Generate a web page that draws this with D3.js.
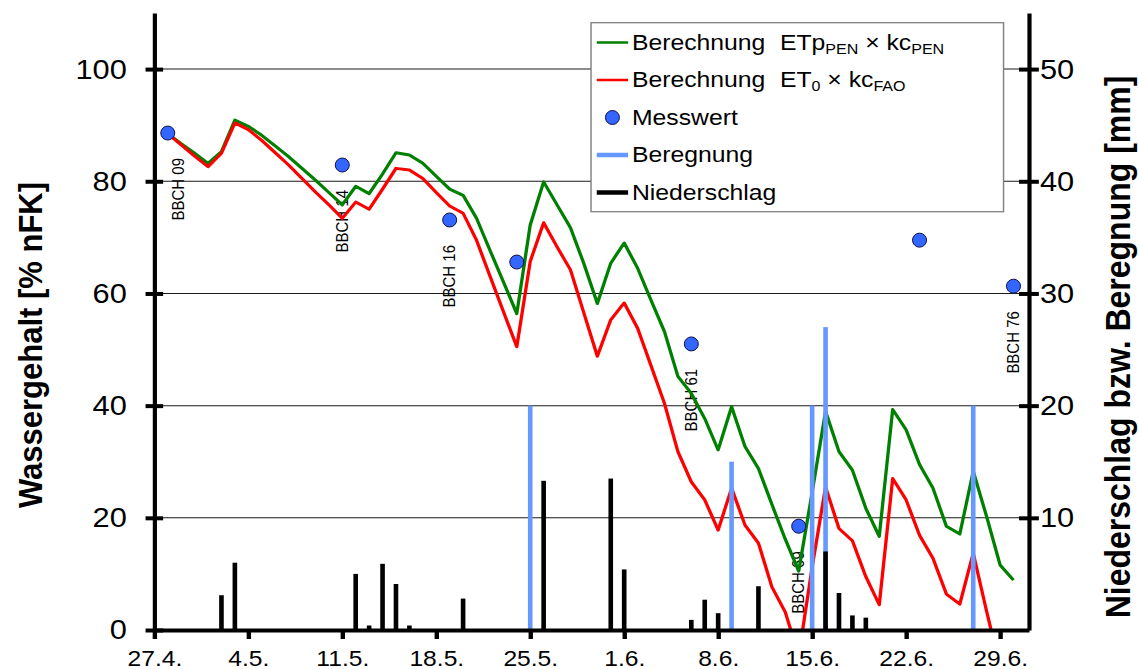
<!DOCTYPE html>
<html>
<head>
<meta charset="utf-8">
<script src="https://cdn.jsdelivr.net/npm/d3@7/dist/d3.min.js"></script>
<style>
  body { margin: 0; background: #fff; }
  svg text { font-family: "Liberation Sans", Arial, sans-serif; fill: #000; }
</style>
</head>
<body>
<svg id="chart" width="1139" height="669"></svg>
<script>
// Simulated soil water content (% nFK), one value per day starting 28.4. (day 1)
const waterPen = [88.5, 86.7, 85.0, 83.2, 85.3, 90.9, 89.8, 88.2, 86.3, 84.4,
  82.3, 80.2, 78.0, 75.8, 79.1, 77.8, 81.3, 85.1, 84.7, 83.2,
  80.9, 78.6, 77.5, 73.4, 67.7, 62.1, 56.4, 72.2, 79.9, 75.8,
  71.7, 65.3, 58.2, 65.4, 69.0, 64.5, 58.8, 53.2, 45.2, 42.2,
  37.7, 32.1, 39.8, 32.7, 28.8, 22.4, 16.2, 10.5, 24.5, 39.0,
  31.8, 28.5, 21.7, 16.7, 39.3, 35.7, 29.5, 25.3, 18.5, 17.1,
  28.3, 20.2, 11.6, 8.9];
const waterFao = [88.5, 86.5, 84.5, 82.6, 85.0, 90.4, 89.2, 87.3, 85.1, 82.9,
  80.5, 78.1, 75.8, 73.4, 76.3, 75.0, 78.6, 82.3, 82.0, 80.5,
  78.0, 75.6, 74.3, 69.5, 63.1, 56.8, 50.5, 65.7, 72.6, 68.3,
  64.2, 56.5, 48.8, 55.3, 58.3, 53.8, 47.1, 40.4, 31.8, 26.4,
  23.2, 17.8, 25.3, 18.7, 15.5, 7.7, 3.2, -4.6, 11.2, 25.5,
  18.1, 15.9, 9.5, 4.5, 27.0, 23.2, 16.9, 12.8, 6.4, 4.6,
  13.7, 3.3, -6.6, -10.0];

// Measured water content (day since 27.4., % nFK)
const measureDays = [1, 14, 22, 27, 40, 48, 57, 64];
const measureValues = [88.6, 82.9, 73.1, 65.6, 51.0, 18.5, 69.5, 61.3];

// Growth stages noted at some of the sampling dates
const bbchDays = [1, 14, 22, 40, 48, 64];
const bbchCodes = ["BBCH 09", "BBCH 14", "BBCH 16", "BBCH 61", "BBCH 69", "BBCH 76"];

// Precipitation (mm)
const rainDays = [5, 6, 15, 16, 17, 18, 19, 23, 29, 34, 35, 40, 41, 42, 45, 50, 51, 52, 53];
const rainMm = [3.1, 6.0, 5.0, 0.4, 5.9, 4.1, 0.4, 2.8, 13.3, 13.5, 5.4, 0.9, 2.7, 1.5, 3.9, 7.0, 3.3, 1.3, 1.1];

// Irrigation (mm)
const irrigDays = [28, 43, 49, 50, 61];
const irrigMm = [20, 15, 20, 27, 20];

// Axis ticks
const dateTickDays = [0, 7, 14, 21, 28, 35, 42, 49, 56, 63];
const dateTickLabels = ["27.4.", "4.5.", "11.5.", "18.5.", "25.5.", "1.6.", "8.6.", "15.6.", "22.6.", "29.6."];
const waterTicks = [0, 20, 40, 60, 80, 100];
const mmTicks = [10, 20, 30, 40, 50];

// ---------------------------------------------------------------------------
const STRETCH = 1.1;                 // the whole drawing is widened horizontally
const plotLeft = 140.3, plotRight = 935.4, plotTop = 13, plotBottom = 630;

const svg = d3.select("#chart");
const g = svg.append("g").attr("transform", `scale(${STRETCH},1)`);
const overlay = svg.append("g");     // round markers keep their shape

const x = d3.scaleLinear().domain([0, 65.15]).range([plotLeft, plotRight]);
const y = d3.scaleLinear().domain([0, 110]).range([plotBottom, plotTop]);
const yMm = d3.scaleLinear().domain([0, 55]).range([plotBottom, plotTop]);

g.append("clipPath").attr("id", "plot-clip")
  .append("rect")
  .attr("x", plotLeft).attr("y", plotTop)
  .attr("width", plotRight - plotLeft).attr("height", plotBottom - plotTop);

// horizontal grid
g.append("g").selectAll("line")
  .data(waterTicks.filter(v => v > 0))
  .join("line")
  .attr("x1", plotLeft).attr("x2", plotRight)
  .attr("y1", d => y(d)).attr("y2", d => y(d))
  .attr("stroke", "#1a1a1a").attr("stroke-width", 1);

// growth stage labels
g.append("g").selectAll("text")
  .data(bbchDays)
  .join("text")
  .attr("transform", (d, i) => {
    const k = measureDays.indexOf(d);
    const cx = Math.max(x(d), plotLeft + 22);
    return `translate(${cx},${y(measureValues[k]) + 25}) rotate(-90)`;
  })
  .attr("text-anchor", "end")
  .attr("dominant-baseline", "central")
  .attr("font-size", 15)
  .text((d, i) => bbchCodes[i]);

// simulated water content
const line = d3.line().x((d, i) => x(i + 1)).y(d => y(d));
g.append("path").datum(waterPen)
  .attr("clip-path", "url(#plot-clip)")
  .attr("fill", "none").attr("stroke", "#008000").attr("stroke-width", 3)
  .attr("stroke-linejoin", "round")
  .attr("d", line);
g.append("path").datum(waterFao)
  .attr("clip-path", "url(#plot-clip)")
  .attr("fill", "none").attr("stroke", "#ff0000").attr("stroke-width", 3)
  .attr("stroke-linejoin", "round")
  .attr("d", line);

// irrigation and precipitation bars
const barW = 4.2;
g.append("g").selectAll("rect")
  .data(irrigDays)
  .join("rect")
  .attr("x", d => x(d) - barW / 2)
  .attr("width", barW)
  .attr("y", (d, i) => yMm(irrigMm[i]))
  .attr("height", (d, i) => plotBottom - yMm(irrigMm[i]))
  .attr("fill", "#6699ff");
g.append("g").selectAll("rect")
  .data(rainDays)
  .join("rect")
  .attr("x", d => x(d) - barW / 2)
  .attr("width", barW)
  .attr("y", (d, i) => yMm(rainMm[i]))
  .attr("height", (d, i) => plotBottom - yMm(rainMm[i]))
  .attr("fill", "#000");

// axes
function styleAxis(sel, fontSize) {
  sel.select(".domain").attr("stroke", "#000").attr("stroke-width", 3.8);
  sel.selectAll(".tick line").attr("stroke", "#000").attr("stroke-width", 4);
  sel.selectAll(".tick text")
    .attr("font-size", fontSize)
    .attr("font-family", "'Liberation Sans', Arial, sans-serif")
    .attr("fill", "#000");
}

const axLeft = g.append("g")
  .attr("transform", `translate(${plotLeft},0)`)
  .call(d3.axisLeft(y).tickValues(waterTicks).tickSize(8).tickSizeOuter(0).tickPadding(17));
axLeft.selectAll(".tick line").attr("x1", 8);
styleAxis(axLeft, 28);

const axRight = g.append("g")
  .attr("transform", `translate(${plotRight},0)`)
  .call(d3.axisRight(yMm).tickValues(mmTicks).tickSize(9).tickSizeOuter(0).tickPadding(1));
axRight.selectAll(".tick line").attr("x1", -9);
styleAxis(axRight, 28);

const axBottom = g.append("g")
  .attr("transform", `translate(0,${plotBottom})`)
  .call(d3.axisBottom(x).tickValues(dateTickDays)
    .tickFormat((d, i) => dateTickLabels[i])
    .tickSize(9).tickSizeOuter(0).tickPadding(11));
styleAxis(axBottom, 22.4);

// axis titles
g.append("text")
  .attr("transform", `translate(38.5,345) rotate(-90)`)
  .attr("text-anchor", "middle")
  .attr("font-size", 31).attr("font-weight", "bold")
  .text("Wassergehalt [% nFK]");
g.append("text")
  .attr("transform", `translate(1027,347) rotate(-90)`)
  .attr("text-anchor", "middle")
  .attr("font-size", 32).attr("font-weight", "bold")
  .text("Niederschlag bzw. Beregnung [mm]");

// measured values
overlay.append("g").selectAll("circle")
  .data(measureDays)
  .join("circle")
  .attr("cx", d => STRETCH * x(d))
  .attr("cy", (d, i) => y(measureValues[i]))
  .attr("r", 7)
  .attr("fill", "#3366ff")
  .attr("stroke", "#10104a").attr("stroke-width", 1);

// legend
const legX = 537.3, legY = 22.7, legW = 375, legH = 189;
const legend = g.append("g");
legend.append("rect")
  .attr("x", legX).attr("y", legY).attr("width", legW).attr("height", legH)
  .attr("fill", "#fff").attr("stroke", "#808080").attr("stroke-width", 1.3);

const rowY = i => 42.5 + i * 37.5;
const sampleX1 = 542.5, sampleX2 = 571, textX = 574.5, formulaX = 709;
const legendFont = 22.5, subFont = 14.6;

function sampleLine(i, color, width) {
  legend.append("line")
    .attr("x1", sampleX1).attr("x2", sampleX2)
    .attr("y1", rowY(i)).attr("y2", rowY(i))
    .attr("stroke", color).attr("stroke-width", width);
}
function legendText(i) {
  return legend.append("text")
    .attr("x", textX).attr("y", rowY(i) + 7.5)
    .attr("font-size", legendFont)
    .style("white-space", "pre");
}

sampleLine(0, "#008000", 2.5);
const t0 = legendText(0);
t0.append("tspan").text("Berechnung");
t0.append("tspan").attr("x", formulaX).text("ETp");
t0.append("tspan").attr("font-size", subFont).attr("dy", 4).text("PEN");
t0.append("tspan").attr("dy", -4).text(" \u00d7 kc");
t0.append("tspan").attr("font-size", subFont).attr("dy", 4).text("PEN");

sampleLine(1, "#ff0000", 2.5);
const t1 = legendText(1);
t1.append("tspan").text("Berechnung");
t1.append("tspan").attr("x", formulaX).text("ET");
t1.append("tspan").attr("font-size", subFont).attr("dy", 4).text("0");
t1.append("tspan").attr("dy", -4).text(" \u00d7 kc");
t1.append("tspan").attr("font-size", subFont).attr("dy", 4).text("FAO");

overlay.append("circle")
  .attr("cx", STRETCH * (sampleX1 + sampleX2) / 2).attr("cy", rowY(2))
  .attr("r", 7).attr("fill", "#3366ff")
  .attr("stroke", "#10104a").attr("stroke-width", 1);
legendText(2).text("Messwert");

sampleLine(3, "#6699ff", 4.5);
legendText(3).text("Beregnung");

sampleLine(4, "#000", 4.5);
legendText(4).text("Niederschlag");
</script>
</body>
</html>
